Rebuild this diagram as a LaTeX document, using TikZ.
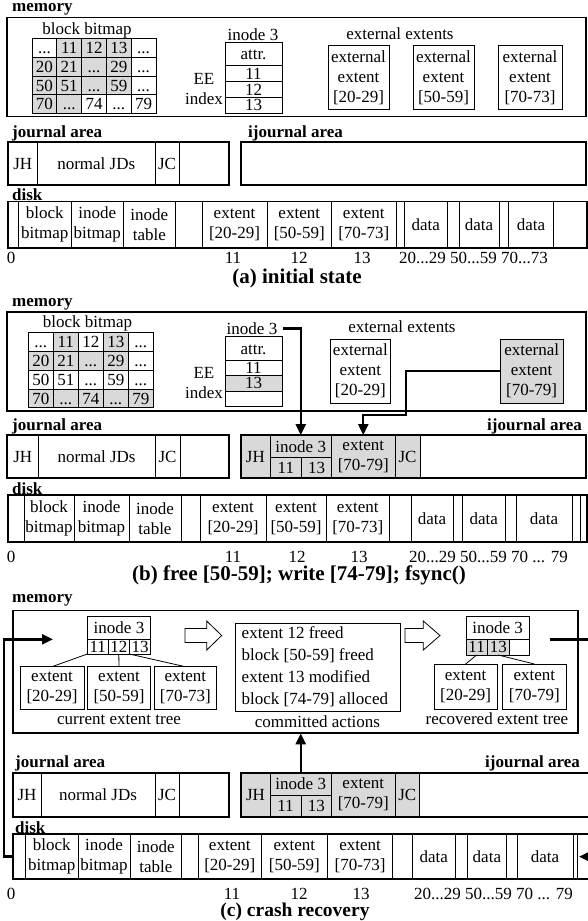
\documentclass[tikz,border=0pt]{standalone}
\usepackage{fontspec}
\setmainfont{Liberation Serif}
\usetikzlibrary{arrows.meta}
\definecolor{shade}{RGB}{217,217,217}
\tikzset{
  cell/.style={draw, line width=0.8pt, inner sep=0pt, outer sep=0pt, align=center, font=\fontsize{17}{20}\selectfont},
  frame/.style={draw, line width=1.7pt, inner sep=0pt, outer sep=0pt},
  one/.style={text height=11.5pt, text depth=0pt},
  lbl/.style={font=\fontsize{17}{20}\selectfont\bfseries, inner sep=0pt, anchor=west},
  txt/.style={font=\fontsize{17}{20}\selectfont, inner sep=0pt},
  captext/.style={font=\fontsize{21}{24}\selectfont\bfseries, inner sep=0pt},
  bigarrow/.style={line width=2.4pt, -{Triangle[length=11pt,width=10pt]}},
  hollow/.style={draw, line width=0.8pt, fill=white},
  tree/.style={line width=0.8pt},
}
\newcommand\dd{...}
\newcommand\cellC[7][]{%
  \pgfmathsetmacro\cellw{#5-#3}%
  \pgfmathsetmacro\cellh{#6-#4}%
  \node[cell,minimum width=\cellw pt,minimum height=\cellh pt,#1] (#2) at ({(#3+#5)/2},{(#4+#6)/2}) {#7};%
}
\newcommand\bitgrid[6]{%
  \foreach \c/\r/\t/\f in {#6} {
    \node[cell, one, fill=\f, minimum width=#4pt, minimum height=#5pt] (#1-\c-\r) at ({#2+#4*(\c+0.5)}, {#3+#5*(\r+0.5)}) {\t};
  }}
\newcommand\diskcells[4]{%
  \foreach \xa/\xb/\t [count=\i] in {#4} {\cellC{#1-\i}{\xa}{#2}{\xb}{#3}{\t}}}
\begin{document}
\begin{tikzpicture}[x=1pt,y=-1pt]
\useasboundingbox (0,0) rectangle (588,921);

% ================= (a) =================
\node[lbl] (memAl) at (12,9.5) {memory};
\node[txt] (bbA) at (87,30) {block bitmap};
\bitgrid{gA}{32}{38.5}{24.8}{18.75}{0/0/\dd/white, 1/0/11/shade, 2/0/12/shade, 3/0/13/shade, 4/0/\dd/white,
0/1/20/shade, 1/1/21/shade, 2/1/\dd/shade, 3/1/29/shade, 4/1/\dd/white,
0/2/50/shade, 1/2/51/shade, 2/2/\dd/shade, 3/2/59/shade, 4/2/\dd/white,
0/3/70/shade, 1/3/\dd/shade, 2/3/74/white, 3/3/\dd/white, 4/3/79/white}
\node[txt] (inoA) at (253,34.5) {inode 3};
\cellC[one]{tA0}{225}{42.5}{282}{65.8}{attr.}
\cellC[one]{tA1}{225}{65.8}{282}{81.5}{11}
\cellC[one]{tA2}{225}{81.5}{282}{97.2}{12}
\cellC[one]{tA3}{225}{97.2}{282}{112.9}{13}
\node[txt, align=center, anchor=east] (eeA) at (223,89.3) {EE\\index};
\node[txt] (exA) at (400,33.5) {external extents};
\cellC{eA1}{328}{45.5}{389}{109.5}{external\\extent\\{[20-29]}}
\cellC{eA2}{413}{45.5}{474}{109.5}{external\\extent\\{[50-59]}}
\cellC{eA3}{498}{45.5}{562}{109.5}{external\\extent\\{[70-73]}}
\cellC[frame]{memA}{7}{17.5}{586}{116.5}{}

\node[lbl] (jlA) at (12,133) {journal area};
\node[lbl] (ijlA) at (248,133) {ijournal area};
\cellC[one]{jA1}{8}{142.2}{37.5}{184.8}{JH}
\cellC[one]{jA2}{37.5}{142.2}{155}{184.8}{normal JDs}
\cellC[one]{jA3}{155}{142.2}{179}{184.8}{JC}
\cellC{jA4}{179}{142.2}{229}{184.8}{}
\cellC[frame]{jA}{8}{142.2}{229}{184.8}{}
\cellC[frame]{ijA}{241}{142.2}{586}{184.8}{}

\node[lbl] (dlA) at (12,195) {disk};
\diskcells{dcA}{201.5}{248.3}{8/18.7/{}, 18.7/71/{block\\bitmap}, 71/123.6/{inode\\bitmap}, 123.6/175/{inode\\table}, 175/202/{}, 202/267/{extent\\{[20-29]}}, 267/331.5/{extent\\{[50-59]}}, 331.5/396/{extent\\{[70-73]}}, 396/404.5/{}, 404.5/447/data, 447/459/{}, 459/499/data, 499/508.6/{}, 508.6/553.5/data, 553.5/587/{}}
\cellC[frame]{dA}{8}{201.5}{587}{248.3}{}
\node[txt] (nA0) at (11,257.5) {0};
\node[txt] (nA1) at (233,257.5) {11};
\node[txt] (nA2) at (299,257.5) {12};
\node[txt] (nA3) at (362,257.5) {13};
\node[txt, anchor=west] (nA4) at (399,257.5) {20...29 50...59 70...73};
\node[captext] (capA) at (297,278) {(a) initial state};

% ================= (b) =================
\node[lbl] (memBl) at (12,304) {memory};
\node[txt] (bbB) at (87.5,323.5) {block bitmap};
\bitgrid{gB}{28.3}{332.7}{25}{18.75}{0/0/\dd/white, 1/0/11/shade, 2/0/12/white, 3/0/13/shade, 4/0/\dd/white,
0/1/20/shade, 1/1/21/shade, 2/1/\dd/shade, 3/1/29/shade, 4/1/\dd/white,
0/2/50/white, 1/2/51/white, 2/2/\dd/white, 3/2/59/white, 4/2/\dd/white,
0/3/70/shade, 1/3/\dd/shade, 2/3/74/shade, 3/3/\dd/shade, 4/3/79/shade}
\node[txt] (inoB) at (252,328.3) {inode 3};
\cellC[one]{tB0}{225}{336.7}{282}{360}{attr.}
\cellC[one]{tB1}{225}{360}{282}{375.2}{11}
\cellC[one,fill=shade]{tB2}{225}{375.2}{282}{391}{13}
\cellC{tB3}{225}{391}{282}{406.7}{}
\node[txt, align=center, anchor=east] (eeB) at (223,383.5) {EE\\index};
\node[txt] (exB) at (402,326.7) {external extents};
\cellC{ebB1}{330.7}{339}{390}{403.3}{external\\extent\\{[20-29]}}
\cellC[fill=shade]{ebB2}{500}{339}{563.3}{403.3}{external\\extent\\{[70-79]}}
\cellC[frame]{memB}{7}{311.7}{586}{411}{}

\node[lbl] (jlB) at (12,426.7) {journal area};
\node[lbl, anchor=east] (ijlB) at (582,426.7) {ijournal area};
\cellC[one]{jB1}{7.3}{435}{38.3}{478.3}{JH}
\cellC[one]{jB2}{38.3}{435}{155}{478.3}{normal JDs}
\cellC[one]{jB3}{155}{435}{180}{478.3}{JC}
\cellC{jB4}{180}{435}{229.3}{478.3}{}
\cellC[frame]{jB}{7.3}{435}{229.3}{478.3}{}
\cellC[one,fill=shade]{ijB1}{240.7}{435}{270}{478}{JH}
\cellC[one,fill=shade]{ijB2}{270}{435}{331.5}{457.7}{inode 3}
\cellC[one,fill=shade]{ijB3}{270}{457.7}{301.7}{478}{11}
\cellC[one,fill=shade]{ijB4}{301.7}{457.7}{331.5}{478}{13}
\cellC[fill=shade]{ijB5}{331.5}{435}{395}{478}{extent\\{[70-79]}}
\cellC[one,fill=shade]{ijB6}{395}{435}{420}{478}{JC}
\cellC[frame]{ijB}{240.7}{435}{586}{478}{}

\node[lbl] (dlB) at (12,488.5) {disk};
\diskcells{dcB}{495}{542}{8/24/{}, 24/74/{block\\bitmap}, 74/129/{inode\\bitmap}, 129/181/{inode\\table}, 181/200/{}, 200/266/{extent\\{[20-29]}}, 266/326/{extent\\{[50-59]}}, 326/389.5/{extent\\{[70-73]}}, 389.5/411/{}, 411/453/data, 453/462.5/{}, 462.5/505/data, 505/516/{}, 516/572/data, 572/580/{}, 580/587/{}}
\cellC[frame]{dB}{8}{495}{587}{542}{}
\node[txt] (nB0) at (11,556.5) {0};
\node[txt] (nB1) at (233,556.5) {11};
\node[txt] (nB2) at (297,556.5) {12};
\node[txt] (nB3) at (359,556.5) {13};
\node[txt, anchor=west] (nB4) at (409,556.5) {20...29 50...59 70 ... 79};
\node[captext] (capB) at (299,575.5) {(b) free [50-59]; write [74-79]; fsync()};

\draw[bigarrow] ([xshift=6pt]inoB.east) -| (ijB2.north);
\draw[bigarrow] (ebB2.west) -| (406,415) -| (ijB5.north);

% ================= (c) =================
\node[lbl] (memCl) at (12,600) {memory};
\cellC[one]{icC}{87.3}{616}{150.7}{639.3}{inode 3}
\cellC[one]{cC1}{87.3}{639.3}{108.3}{654}{11}
\cellC[one]{cC2}{108.3}{639.3}{129.3}{654}{12}
\cellC[one]{cC3}{129.3}{639.3}{150.7}{654}{13}
\cellC{ceC1}{20}{666.7}{84}{709.3}{extent\\{[20-29]}}
\cellC{ceC2}{87.3}{666.7}{150.7}{709.3}{extent\\{[50-59]}}
\cellC{ceC3}{154}{666.7}{216.7}{709.3}{extent\\{[70-73]}}
\draw[tree] (cC1.south west) -- (ceC1.north);
\draw[tree] (cC2.south) -- (ceC2.north);
\draw[tree] (cC3.south west) -- (ceC3.north);
\node[txt] (cetC) at (119,719.3) {current extent tree};
\draw[hollow] (185,628.5) -- (206.7,628.5) -- (206.7,621) -- (221.7,635.5) -- (206.7,650) -- (206.7,642.5) -- (185,642.5) -- cycle;
\cellC{caC}{235}{623.3}{400}{711.7}{}
\node[txt, anchor=west, align=left, font=\fontsize{17}{22}\selectfont] (catC) at (241.5,667) {extent 12 freed\\block [50-59] freed\\extent 13 modified\\block [74-79] alloced};
\node[txt] (calC) at (317.5,721.7) {committed actions};
\draw[hollow] (405,628.5) -- (423.3,628.5) -- (423.3,621) -- (440,635.5) -- (423.3,650) -- (423.3,642.5) -- (405,642.5) -- cycle;
\cellC[one]{irC}{466}{616}{529.3}{639.3}{inode 3}
\cellC[one,fill=shade]{rC1}{466}{639.3}{487.3}{655}{11}
\cellC[one,fill=shade]{rC2}{487.3}{639.3}{509.3}{655}{13}
\cellC{rC3}{509.3}{639.3}{529.3}{655}{}
\cellC{reC1}{434}{664}{497.3}{709.3}{extent\\{[20-29]}}
\cellC{reC2}{502.7}{664}{566}{709.3}{extent\\{[70-79]}}
\draw[tree] (rC1.south) -- (reC1.north);
\draw[tree] (rC2.south) -- (reC2.north);
\node[txt] (retC) at (497,718.3) {recovered extent tree};
\cellC[frame]{memC}{13.3}{610.5}{578.3}{733.3}{}

\node[lbl] (jlC) at (15,763.3) {journal area};
\node[lbl, anchor=east] (ijlC) at (580,763.3) {ijournal area};
\cellC[one]{jC1}{13}{773.3}{41}{816.7}{JH}
\cellC[one]{jC2}{41}{773.3}{155}{816.7}{normal JDs}
\cellC[one]{jC3}{155}{773.3}{179}{816.7}{JC}
\cellC{jC4}{179}{773.3}{229}{816.7}{}
\cellC[frame]{jC}{13}{773.3}{229}{816.7}{}
\cellC[one,fill=shade]{ijC1}{241}{773.3}{270}{816.7}{JH}
\cellC[one,fill=shade]{ijC2}{270}{773.3}{331.5}{795}{inode 3}
\cellC[one,fill=shade]{ijC3}{270}{795}{301}{816.7}{11}
\cellC[one,fill=shade]{ijC4}{301}{795}{331.5}{816.7}{13}
\cellC[fill=shade]{ijC5}{331.5}{773.3}{395}{816.7}{extent\\{[70-79]}}
\cellC[one,fill=shade]{ijC6}{395}{773.3}{419.5}{816.7}{JC}
\cellC[frame]{ijC}{241}{773.3}{594}{816.7}{}

\node[lbl] (dlC) at (15,827.3) {disk};
\diskcells{dcC}{834}{879.3}{13/25.5/{}, 25.5/78/{block\\bitmap}, 78/130/{inode\\bitmap}, 130/181.6/{inode\\table}, 181.6/198.5/{}, 198.5/261/{extent\\{[20-29]}}, 261/327.7/{extent\\{[50-59]}}, 327.7/392.5/{extent\\{[70-73]}}, 392.5/412.7/{}, 412.7/455/data, 455/467.4/{}, 467.4/506.4/data, 506.4/516.9/{}, 516.9/573/data, 573/577/{}, 577/594/{}}
\cellC[frame]{dC}{13}{834}{594}{879.3}{}
\node[txt] (nC0) at (11,893.5) {0};
\node[txt] (nC1) at (232,893.5) {11};
\node[txt] (nC2) at (299,893.5) {12};
\node[txt] (nC3) at (361,893.5) {13};
\node[txt, anchor=west] (nC4) at (414,893.5) {20...29 50...59 70 ... 79};
\node[captext, font=\fontsize{19.5}{24}\selectfont\bfseries] (capC) at (295,912) {(c) crash recovery};

\coordinate (cin) at (53,639.3);
\coordinate (rout) at (550,639.3);
\coordinate (cend) at (579,856.65);
\draw[bigarrow] (ijC2.north) -- (ijC2.north |- memC.south);
\draw[bigarrow] (dC.west) -- (4,856.65) |- (cin);
\draw[bigarrow] (rout) -- (592,639.3) |- (cend);
\end{tikzpicture}
\end{document}
